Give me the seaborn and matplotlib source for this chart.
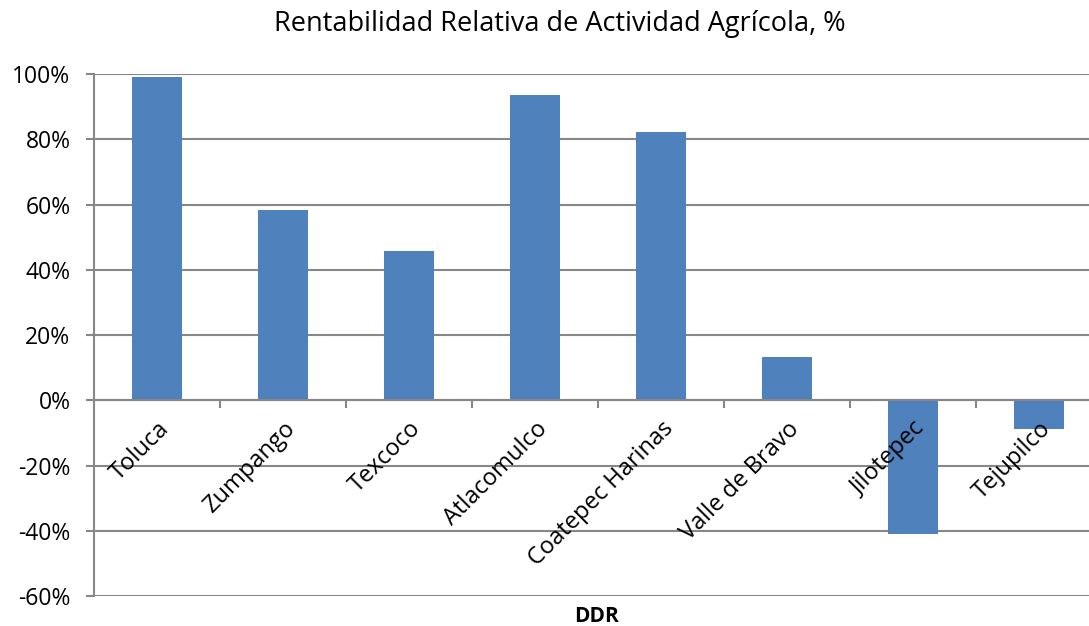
import pandas as pd
import matplotlib
matplotlib.use("Agg")
import matplotlib.pyplot as plt
import seaborn as sns
from matplotlib.ticker import PercentFormatter, FixedLocator

# data
ddr = ["Toluca", "Zumpango", "Texcoco", "Atlacomulco", "Coatepec Harinas",
       "Valle de Bravo", "Jilotepec", "Tejupilco"]
rentabilidad = [99.2, 58.4, 45.6, 93.7, 82.1, 13.4, -41.0, -8.9]
y_ticks = [-60, -40, -20, 0, 20, 40, 60, 80, 100]

df = pd.DataFrame({"DDR": ddr, "valor": rentabilidad})

sns.set_style("white")
plt.rcParams["font.family"] = ["Open Sans", "DejaVu Sans"]
plt.rcParams["axes.unicode_minus"] = False
plt.rcParams["text.color"] = "black"

fig = plt.figure(figsize=(10.89, 6.26), dpi=100)
ax = fig.add_axes([94 / 1089, 1 - 596 / 626, 1008 / 1089, 522 / 626])

gray = "#878787"
# gridlines drawn under the bars, labels stay on top
for t in y_ticks:
    ax.axhline(t, color=gray, linewidth=1.5, zorder=0)

sns.barplot(data=df, x="DDR", y="valor", color="#4F81BD", width=0.4,
            saturation=1, linewidth=0, ax=ax, zorder=1)

ax.set_ylim(-60, 100)
ax.set_xlim(-0.5, 7.5)
ax.yaxis.set_major_locator(FixedLocator(y_ticks))
ax.yaxis.set_major_formatter(PercentFormatter(decimals=0))
ax.grid(False)
ax.set_axisbelow(False)

for s in ["top", "right"]:
    ax.spines[s].set_visible(False)
ax.spines["left"].set_color(gray)
ax.spines["left"].set_linewidth(1.5)
ax.spines["bottom"].set_position(("data", 0))
ax.spines["bottom"].set_color(gray)
ax.spines["bottom"].set_linewidth(1.5)

ax.tick_params(axis="y", length=6, width=1.5, color=gray, labelcolor="black",
               labelsize=16.5, pad=11, left=True)
ax.set_xticks(range(len(ddr)))
ax.set_xticklabels(ddr, rotation=45, ha="right", rotation_mode="anchor",
                   fontsize=17, color="black")
ax.tick_params(axis="x", which="major", length=0, pad=12)
ax.set_xticks([i + 0.5 for i in range(len(ddr) - 1)], minor=True)
ax.tick_params(axis="x", which="minor", length=6, width=1.5, color=gray,
               bottom=True)

ax.set_ylabel("")
ax.set_xlabel("")
fig.text(596 / 1089, 1 - 616 / 626, "DDR", ha="center", va="center",
         fontsize=15, fontweight="bold")
fig.text(560 / 1089, 1 - 24 / 626, "Rentabilidad Relativa de Actividad Agrícola, %",
         ha="center", va="center", fontsize=19.5)

fig.savefig("out.png", dpi=100)
